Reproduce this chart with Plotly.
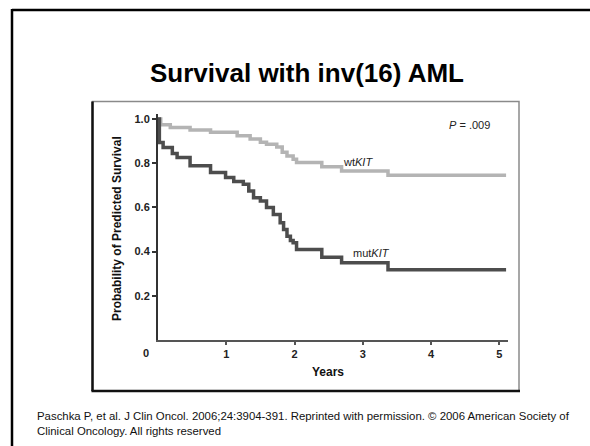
import plotly.graph_objects as go

# ---- data ----
wt_years = [0, 0.04, 0.18, 0.47, 0.77, 1.16, 1.35, 1.50, 1.59, 1.74, 1.82, 1.89, 1.98, 2.03, 2.40, 2.69, 3.37, 5.10]
wt_surv = [1.0, 0.974, 0.962, 0.95, 0.94, 0.924, 0.909, 0.895, 0.886, 0.873, 0.85, 0.833, 0.818, 0.803, 0.784, 0.765, 0.745, 0.745]

mut_years = [0, 0.02, 0.075, 0.21, 0.28, 0.47, 0.77, 0.99, 1.11, 1.25, 1.33, 1.40, 1.50, 1.59, 1.69, 1.79, 1.84, 1.89, 1.94, 1.98, 2.03, 2.40, 2.69, 3.37, 5.10]
mut_surv = [1.0, 0.894, 0.871, 0.844, 0.826, 0.788, 0.758, 0.735, 0.717, 0.705, 0.674, 0.644, 0.629, 0.599, 0.568, 0.53, 0.50, 0.47, 0.45, 0.44, 0.409, 0.375, 0.35, 0.318, 0.318]

x_ticks = [1, 2, 3, 4, 5]
y_ticks = [0.2, 0.4, 0.6, 0.8, 1.0]
y_tick_labels = ["0.2", "0.4", "0.6", "0.8", "1.0"]

title_text = "Survival with inv(16) AML"
footer_text = ("Paschka P, et al. J Clin Oncol. 2006;24:3904-391. Reprinted with permission. © 2006 American Society of"
               "<br>Clinical Oncology. All rights reserved")

# ---- layout geometry ----
W, H = 590, 446
L, R, T, B = 158, 508, 114, 340


def fx(p):
    return (p - L) / (R - L)


def fy(p):
    return (B - p) / (B - T)


chart_font = "Liberation Sans, Arial, Helvetica, sans-serif"

fig = go.Figure()
fig.add_trace(go.Scatter(x=wt_years, y=wt_surv, mode="lines", line_shape="hv",
                         line=dict(color="#b4b4b4", width=3.5), name="wtKIT", showlegend=False))
fig.add_trace(go.Scatter(x=mut_years, y=mut_surv, mode="lines", line_shape="hv",
                         line=dict(color="#4d4d4d", width=3.5), name="mutKIT", showlegend=False))

fig.update_layout(
    width=W, height=H,
    margin=dict(l=L, r=W - R, t=T, b=H - B),
    paper_bgcolor="white", plot_bgcolor="white",
    showlegend=False,
    xaxis=dict(range=[0, (R - L) / 68.25], tickvals=x_ticks, ticktext=[str(v) for v in x_ticks],
               showgrid=False, zeroline=False, showline=True, linecolor="#555", linewidth=2,
               ticks="outside", ticklen=3, tickwidth=1.5, tickcolor="#555",
               tickfont=dict(family=chart_font, size=11, color="#222", weight="bold")),
    yaxis=dict(range=[0, (B - T) / 221], tickvals=y_ticks, ticktext=y_tick_labels,
               showgrid=False, zeroline=False, showline=True, linecolor="#333", linewidth=2,
               ticks="outside", ticklen=4, tickwidth=1.5, tickcolor="#333",
               tickfont=dict(family=chart_font, size=11, color="#222", weight="bold")),
)

shapes = []
# outer slide frame (left and top visible)
shapes.append(dict(type="line", xref="paper", yref="paper", x0=fx(12), y0=fy(10), x1=fx(590), y1=fy(10),
                   line=dict(color="black", width=2.5), layer="above"))
shapes.append(dict(type="line", xref="paper", yref="paper", x0=fx(12), y0=fy(9), x1=fx(12), y1=fy(446),
                   line=dict(color="black", width=2.5), layer="above"))
# inner chart box
shapes.append(dict(type="rect", xref="paper", yref="paper", x0=fx(92.5), y0=fy(101.5), x1=fx(519), y1=fy(391),
                   line=dict(color="#8a8a8a", width=1.5), fillcolor="rgba(0,0,0,0)", layer="above"))
shapes.append(dict(type="line", xref="paper", yref="paper", x0=fx(92.5), y0=fy(101.5), x1=fx(92.5), y1=fy(391),
                   line=dict(color="#111", width=2.5), layer="above"))
shapes.append(dict(type="line", xref="paper", yref="paper", x0=fx(91.5), y0=fy(391), x1=fx(520), y1=fy(391),
                   line=dict(color="#111", width=2.5), layer="above"))
fig.update_layout(shapes=shapes)

ann = []
ann.append(dict(text="<b>" + title_text + "</b>", xref="paper", yref="paper", x=fx(307), y=fy(73),
                xanchor="center", yanchor="middle", showarrow=False,
                font=dict(family="Liberation Sans, Arial, sans-serif", size=26, color="black")))
ann.append(dict(text=footer_text, xref="paper", yref="paper", x=fx(35), y=fy(408), align="left",
                xanchor="left", yanchor="top", showarrow=False,
                font=dict(family="Liberation Sans, Arial, sans-serif", size=11.4, color="#111")))
ann.append(dict(text="<b>Probability of Predicted Survival</b>", xref="paper", yref="paper", x=fx(117), y=fy(229),
                textangle=-90, xanchor="center", yanchor="middle", showarrow=False,
                font=dict(family=chart_font, size=12, color="#111")))
ann.append(dict(text="<b>Years</b>", xref="paper", yref="paper", x=fx(328), y=fy(372),
                xanchor="center", yanchor="middle", showarrow=False,
                font=dict(family=chart_font, size=12, color="#111")))
ann.append(dict(text="<b>0</b>", xref="paper", yref="paper", x=fx(146), y=fy(353),
                xanchor="center", yanchor="middle", showarrow=False,
                font=dict(family=chart_font, size=11, color="#222")))
ann.append(dict(text="<i>P</i> = .009", xref="paper", yref="paper", x=fx(492), y=fy(125),
                xanchor="right", yanchor="middle", showarrow=False,
                font=dict(family=chart_font, size=11, color="#222")))
ann.append(dict(text="wt<i>KIT</i>", xref="paper", yref="paper", x=fx(341), y=fy(162),
                xanchor="left", yanchor="middle", showarrow=False,
                font=dict(family=chart_font, size=11, color="#222")))
ann.append(dict(text="mut<i>KIT</i>", xref="paper", yref="paper", x=fx(351), y=fy(253),
                xanchor="left", yanchor="middle", showarrow=False,
                font=dict(family=chart_font, size=11, color="#222")))
fig.update_layout(annotations=ann)

fig.write_html("out.html")
